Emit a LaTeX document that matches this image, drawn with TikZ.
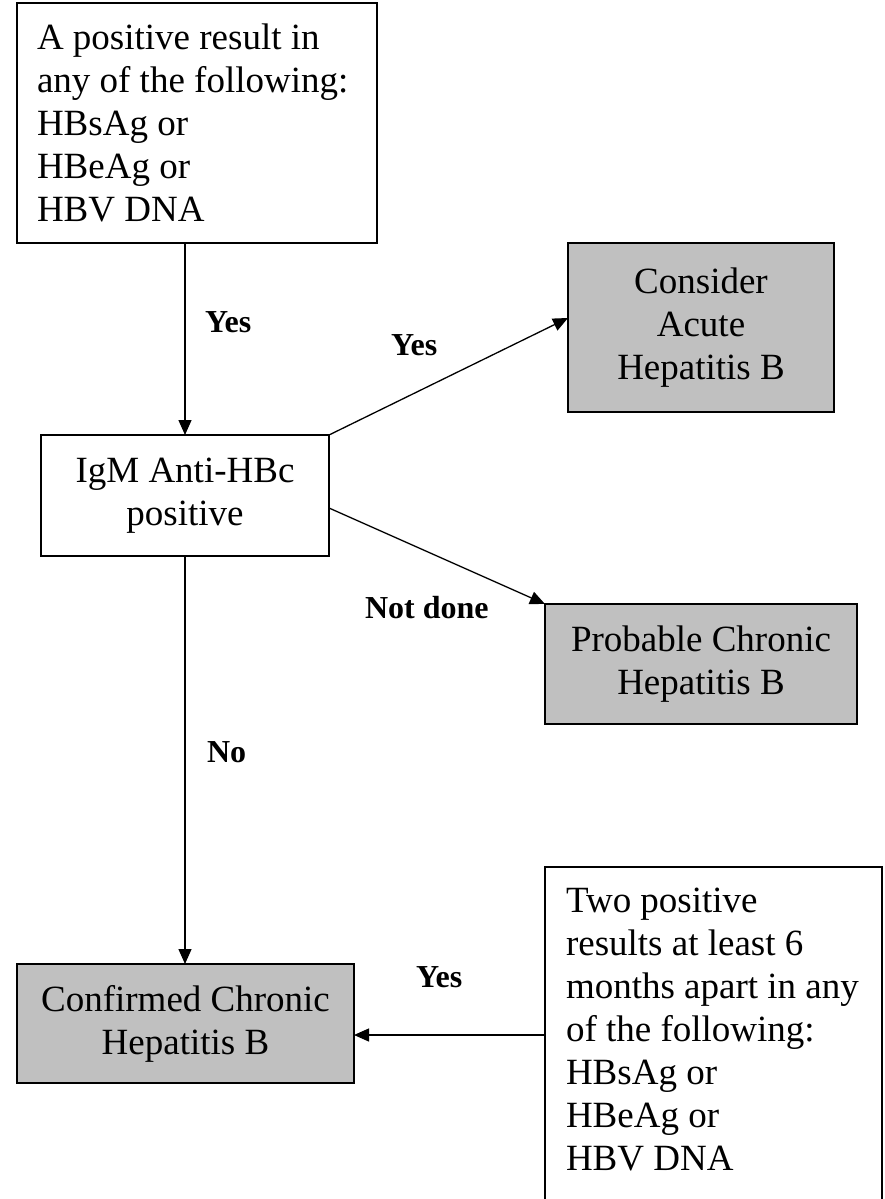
\documentclass[tikz,border=0pt]{standalone}
\usepackage{fontspec}
\setmainfont{Liberation Serif}
\usetikzlibrary{arrows.meta}

\begin{document}
\begin{tikzpicture}[x=1pt,y=1pt,
  box/.style={draw=drawColor,line width=1.8pt,inner sep=0pt,outer sep=0pt,font=\fontsize{37}{43}\selectfont},
  leftbox/.style={box,align=flush left,inner xsep=20pt},
  endbox/.style={box,fill=fillColor,align=center},
  arr/.style={draw=drawColor,line width=1.3pt,-{Triangle[length=15pt,width=13pt]}},
  lbl/.style={text=drawColor,anchor=base west,inner sep=0pt,outer sep=0pt,font=\fontsize{32}{38}\selectfont\bfseries}]
\definecolor{drawColor}{RGB}{0,0,0}
\definecolor{fillColor}{RGB}{192,192,192}
\path[use as bounding box,fill=white] (0,0) rectangle (884,-1199);

\node[leftbox,text width=320pt,minimum height=240pt] (anypos) at (197,-123) {A positive result in\\any of the following:\\HBsAg or\\HBeAg or\\HBV DNA};

\node[endbox,minimum width=266pt,minimum height=169pt] (acute) at (701,-327.5) {Consider\\Acute\\Hepatitis B};

\node[box,align=center,minimum width=288pt,minimum height=121pt] (igm) at (185,-495.5) {IgM Anti-HBc\\positive};

\node[endbox,minimum width=312pt,minimum height=120pt] (probable) at (701,-664) {Probable Chronic\\Hepatitis B};

\node[endbox,minimum width=337pt,minimum height=119pt] (confirmed) at (185.5,-1023.5) {Confirmed Chronic\\Hepatitis B};

\node[leftbox,anchor=north west,text width=295pt,minimum height=368pt,inner xsep=21pt] (twopos) at (545,-867) {Two positive\\results at least 6\\months apart in any\\of the following:\\HBsAg or\\HBeAg or\\HBV DNA\\ \mbox{}};

\node[lbl] (yesfirst) at (205,-332) {Yes};
\node[lbl] (yesacute) at (391,-355) {Yes};
\node[lbl] (notdone) at (365,-618) {Not done};
\node[lbl] (nolbl) at (207,-762) {No};
\node[lbl] (yestwo) at (416,-987) {Yes};

\draw[arr] (igm.north |- anypos.south) -- (igm.north);
\draw[arr] (igm.north east) -- ([yshift=9.5pt]acute.west);
\draw[arr] ([yshift=-12.5pt]igm.east) -- (probable.north west);
\draw[arr] (igm.south) -- (igm.south |- confirmed.north);
\draw[arr] ([yshift=-11.5pt]confirmed.east -| twopos.west) -- ([yshift=-11.5pt]confirmed.east);
\end{tikzpicture}
\end{document}
